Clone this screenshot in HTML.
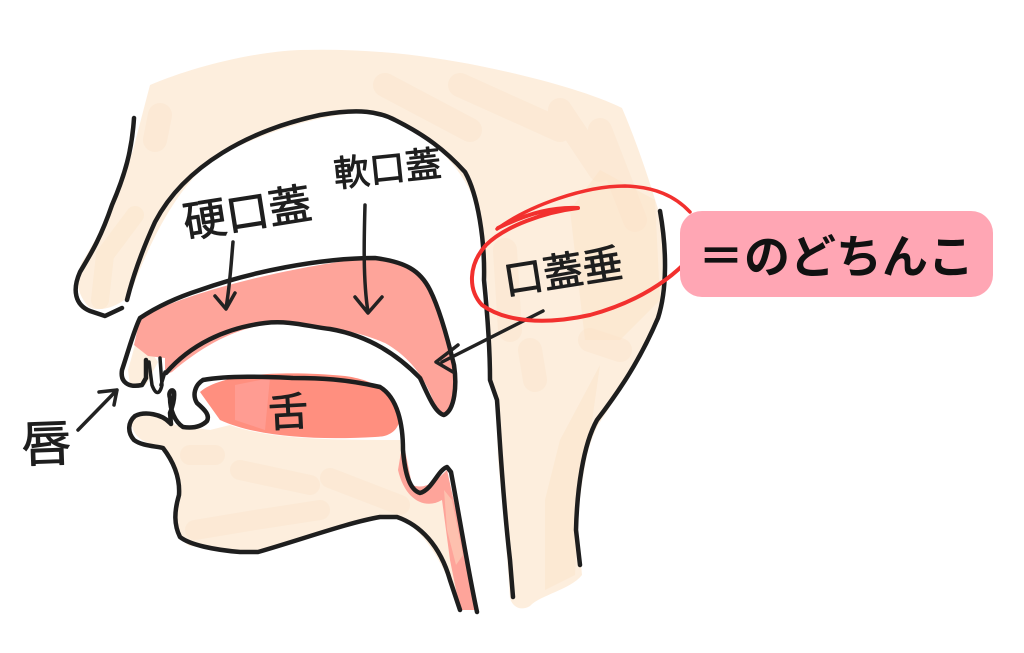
<!DOCTYPE html>
<html lang="ja">
<head>
<meta charset="utf-8">
<style>
html,body{margin:0;padding:0;background:#fff;}
svg{display:block;}
.k{fill:none;stroke:#1e1e1e;stroke-width:4.5;stroke-linecap:round;stroke-linejoin:round;}
.a{fill:none;stroke:#222;stroke-width:3.5;stroke-linecap:round;stroke-linejoin:round;}
.p{fill:none;stroke:#fbe3c8;stroke-width:24;stroke-linecap:round;stroke-linejoin:round;opacity:.38;}
.t{font-family:"Liberation Sans","WenQuanYi Zen Hei","Noto Sans CJK JP",sans-serif;fill:#1e1e1e;stroke:#1e1e1e;stroke-width:.9;stroke-linejoin:round;}
</style>
</head>
<body>
<svg width="1024" height="653" viewBox="0 0 1024 653" xmlns="http://www.w3.org/2000/svg">
<rect width="1024" height="653" fill="#fff"/>

<!-- head peach -->
<path fill="#fdeedd" d="M150 85 C190 68 250 52 300 50 C370 48 430 56 480 66 C530 76 590 92 622 108 C640 150 652 190 660 215 C668 260 666 295 655 325 C640 360 615 400 598 425 C585 450 579 490 578 530 L582 575 C570 590 540 595 530 606 C520 612 512 606 510 598 L505 530 L498 460 L496 400 L489 380 L489 300 L480 220 C470 175 440 140 380 113 C330 110 270 130 220 155 C180 180 150 240 130 295 C115 310 95 312 88 306 C78 295 74 280 82 262 C100 235 120 190 133 150 Z"/>
<path class="p" d="M160 115 L155 140 M385 85 L470 130 M460 85 L560 130 M560 110 L600 170 M600 130 L635 220 M505 250 L510 330 M530 350 L535 380 M590 340 L620 350"/>
<path d="M600 365 L560 440 L545 500 L545 590 L575 575 L578 510 L590 435 Z" fill="#fbe3c8" opacity=".45"/>
<path d="M600 170 L655 200 L660 300 L620 340 L585 340 L570 210 Z" fill="#fbe3c8" opacity=".5"/>
<path d="M100 300 L105 255 L135 215" fill="none" stroke="#fbe3c8" stroke-width="18" opacity=".4" stroke-linecap="round"/>

<!-- jaw peach -->
<path fill="#fdeedd" d="M131 420 C145 410 165 415 175 425 L210 430 L230 425 C270 440 340 440 400 440 L406 480 L418 495 L432 495 L447 470 L470 610 L460 610 C445 565 425 530 397 517 L380 517 L257 552 L190 546 C178 540 172 525 175 510 C182 490 178 465 163 447 C148 444 132 440 131 420 Z"/>
<path class="p" style="stroke-width:20" d="M190 455 L215 455 M240 470 L310 485 M330 478 L400 505 M195 530 L255 520 L320 510"/>
<!-- upper lip peach -->
<path fill="#fdeedd" d="M135 345 L128 370 L130 385 L146 385 L158 362 L150 350 Z"/>

<!-- palate -->
<path fill="#fea49a" d="M140 318 C190 290 300 265 370 258 C405 258 430 280 437 310 C445 340 458 370 455 395 C452 415 442 416 436 408 C428 385 415 360 385 343 C355 330 330 328 300 325 C260 318 215 335 172 372 L165 375 L165 358 L148 356 L134 345 Z"/>
<!-- tongue -->
<path fill="#ff8f7f" d="M200 392 C220 374 280 370 345 376 C375 380 392 392 400 415 C400 430 390 437 375 437 C320 440 260 438 220 420 Z"/>
<path fill="#ff9c92" d="M235 385 L270 378 L265 430 L235 420 Z"/>
<!-- throat red -->
<path fill="#fea49a" d="M403 440 L412 485 C425 490 435 482 447 470 L478 610 L460 610 L450 560 L442 500 C425 510 405 500 398 470 Z"/>
<path fill="#fdc0ae" d="M444 490 L447 530 L456 565 L463 555 L452 500 Z"/>

<!-- outlines -->
<path class="k" d="M134 118 C132 150 125 175 112 205 C100 240 90 255 80 272 C72 290 75 305 90 311 L105 316 L122 308"/>
<path class="k" d="M127 300 C132 280 140 255 155 222 C185 165 250 130 320 115 C360 108 380 112 395 120 C425 135 445 150 465 172 C478 195 485 240 484 280 C488 320 490 350 490 380 L497 400 C500 440 502 490 510 560 L513 597"/>
<path class="k" d="M660 211 C667 250 667 290 658 318 C640 360 620 390 597 420 C583 445 577 490 576 530 L580 565"/>
<!-- palate line -->
<path class="k" d="M166 373 C190 345 225 328 265 323 C290 320 310 327 330 329 C365 335 395 352 420 378 C428 395 435 413 444 415 C455 410 457 385 454 365 C448 340 440 310 430 290 C420 270 405 262 375 258 C320 258 250 272 200 290 C175 298 155 308 140 318 C134 330 128 352 122 370 C120 382 128 388 142 385 L146 378 L146 360"/>
<path class="k" style="stroke-width:3.5" d="M149 362 L152 385 C156 396 160 394 162 385 L160 358 M161 385 L165 372"/>
<!-- tongue / lower lip -->
<path class="k" d="M203 380 C230 375 270 377 293 378 C320 378 345 379 380 387 C398 398 403 425 403 450 C405 475 410 490 420 493 C432 490 438 470 447 467 L451 472 C460 520 468 570 477 612"/>
<path class="k" d="M203 380 C195 385 192 395 197 403 C205 410 210 415 207 421 C200 428 190 428 183 427 C175 422 170 410 170 398 C168 392 172 388 174 392 C175 400 172 408 170 413 L171 424"/>
<path class="k" d="M170 423 C162 414 145 411 135 416 C128 422 127 432 134 440 C142 446 155 446 163 448 C176 465 180 480 179 495 C174 512 174 525 180 537 C190 545 215 550 240 552 L258 552 C300 540 350 522 380 517 L397 517 C420 525 440 545 450 580 L460 610"/>

<!-- arrows -->
<path class="a" d="M233 242 C231 265 230 285 226 308 M215 296 L226 309 L235 293"/>
<path class="a" d="M365 205 C364 240 363 280 368 312 M355 297 L368 313 L382 297"/>
<path class="a" d="M543 311 L442 362 M458 345 L436 362 L453 372"/>
<path class="a" d="M78 430 L117 390 M99 392 L117 390 L114 405"/>

<!-- red circle -->
<path d="M497 229 C530 205 585 186 625 186 C655 187 675 196 690 212" fill="none" stroke="#f2302e" stroke-width="3.5" stroke-linecap="round"/>
<path d="M498 228 C530 212 555 207 578 208 C545 212 505 226 486 245 C468 265 468 290 482 305 C505 322 545 325 590 315 C630 304 665 285 690 258" fill="none" stroke="#f2302e" stroke-width="4" stroke-linecap="round" stroke-linejoin="round"/>

<!-- labels -->
<text class="t" font-size="43" transform="translate(186 238) rotate(-9)">硬口蓋</text>
<text class="t" font-size="36" transform="translate(335 187) rotate(-6)">軟口蓋</text>
<text class="t" font-size="40" transform="translate(506 295) rotate(-9)">口蓋垂</text>
<text class="t" font-size="40" transform="translate(269 427) rotate(-3)">舌</text>
<text class="t" font-size="50" transform="translate(22 462) rotate(-2)">唇</text>

<rect x="680" y="211" width="313" height="86" rx="22" fill="#ffa6b4"/>
<text x="698" y="273" font-size="46" font-weight="700" font-family="'Liberation Sans','Noto Sans CJK JP',sans-serif" fill="#111">＝のどちんこ</text>
</svg>
</body>
</html>
